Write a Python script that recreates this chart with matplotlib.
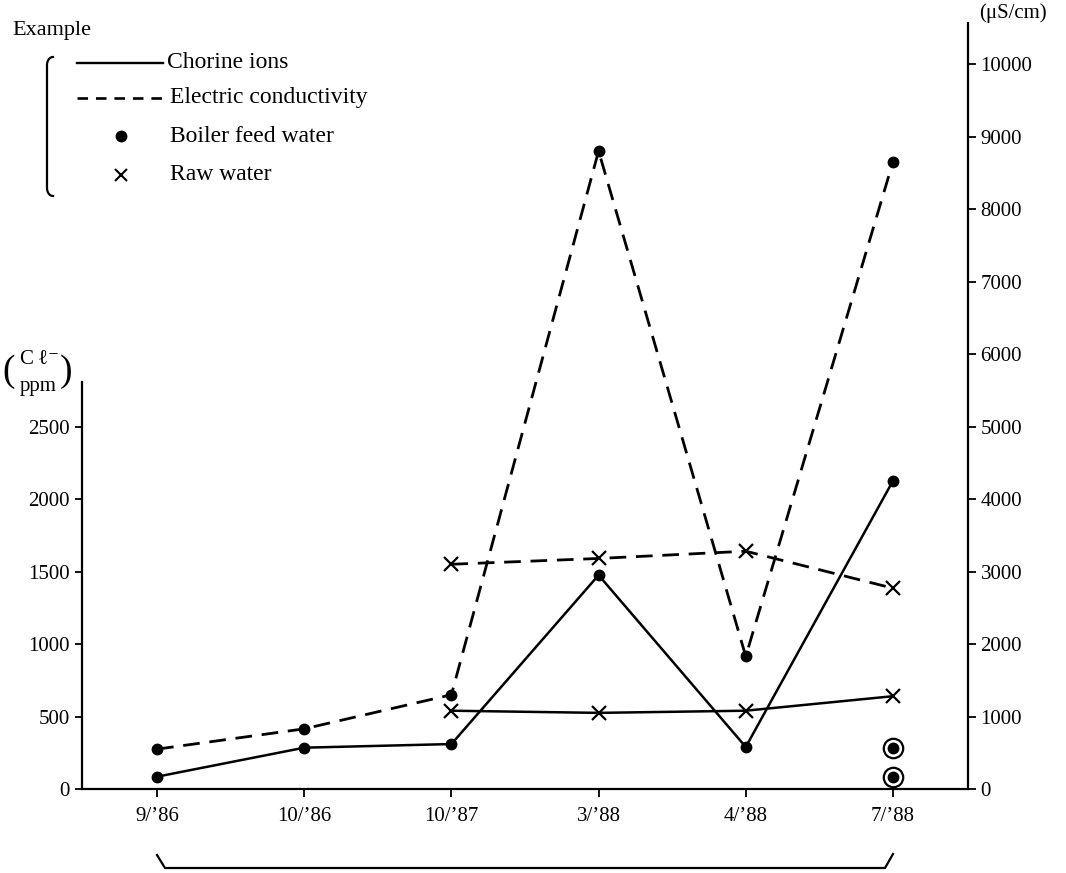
import matplotlib
matplotlib.use("Agg")
import matplotlib.pyplot as plt
import numpy as np

plt.rcParams['font.family'] = ['Liberation Serif', 'DejaVu Serif']

# data
dates = ["9/\u201986", "10/\u201986", "10/\u201987", "3/\u201988", "4/\u201988", "7/\u201988"]
cl_boiler = [85, 285, 310, 1475, 290, 2125]        # ppm, left axis
ec_boiler = [550, 830, 1300, 8800, 1830, 8650]     # uS/cm, right axis
raw_idx = [2, 3, 4, 5]
cl_raw = [540, 525, 540, 640]
ec_raw = [3100, 3180, 3280, 2770]
circled = [280, 85]   # circled dots at 7/'88

W, H = 1066, 873
fig = plt.figure(figsize=(W / 100, H / 100), dpi=100)
ax = fig.add_axes([82 / W, (H - 789) / H, (968 - 82) / W, (789 - 23) / H])
ax2 = ax.twinx()

x = np.arange(len(dates))
xr = x[raw_idx]

ax.plot(x, cl_boiler, color='k', lw=1.8, marker='o', ms=7.5, zorder=3)
ax.plot(xr, cl_raw, color='k', lw=1.8, marker='x', ms=10, mew=1.6, zorder=3)
ax2.plot(x, ec_boiler, color='k', lw=2.0, ls=(0, (6, 3.5)), marker='o', ms=7.5)
ax2.plot(xr, ec_raw, color='k', lw=2.0, ls=(0, (6, 3.5)), marker='x', ms=10, mew=1.6)

# circled dots
ax.plot([x[-1]] * len(circled), circled, ls='none', marker='o', ms=14,
        mfc='white', mec='k', mew=1.6, zorder=4)
ax.plot([x[-1]] * len(circled), circled, ls='none', marker='o', ms=7.5,
        color='k', zorder=5)

ax.set_xlim(-0.51, 5.51)
ax.set_ylim(0, 5283)
ax2.set_ylim(0, 10566)

for a in (ax, ax2):
    a.spines['top'].set_visible(False)
ax.spines['right'].set_visible(False)
ax2.spines['left'].set_visible(False)
ax2.spines['bottom'].set_visible(False)
ax.spines['left'].set_bounds(0, 2810)
for s in ('left', 'bottom'):
    ax.spines[s].set_linewidth(1.6)
ax2.spines['right'].set_linewidth(1.6)

tfs = 15
ax.set_yticks(range(0, 2501, 500))
ax2.set_yticks(range(0, 10001, 1000))
ax.set_xticks(x, dates)
ax.tick_params(axis='y', direction='out', length=5, width=1.3, pad=4, labelsize=tfs)
ax.tick_params(axis='x', direction='out', length=6, width=1.3, pad=7, labelsize=tfs)
ax2.tick_params(axis='y', direction='out', length=6, width=1.3, pad=3, labelsize=tfs)

# overlay in pixel coordinates for legend and annotations
ov = fig.add_axes([0, 0, 1, 1], facecolor='none')
ov.set_xlim(0, W)
ov.set_ylim(H, 0)
ov.axis('off')

fs = 17
ov.text(12, 30, "Example", fontsize=16, va='center')
t = np.linspace(0, 1, 20)
bx = np.concatenate([53 - 6 * np.sin(t * np.pi / 2), [47, 47], 47 + 6 * (1 - np.cos(t * np.pi / 2))])
by = np.concatenate([57 + 8 * (1 - np.cos(t * np.pi / 2)), [65, 188], 188 + 8 * np.sin(t * np.pi / 2)])
ov.plot(bx, by, color='k', lw=1.6)

ov.plot([77, 163], [63, 63], color='k', lw=1.7)
ov.text(167, 63, "Chorine ions", fontsize=fs, va='center')
ov.plot([77, 163], [98, 98], color='k', lw=1.9, ls=(0, (4, 3)))
ov.text(170, 98, "Electric conductivity", fontsize=fs, va='center')
ov.plot([121], [136], ls='none', marker='o', ms=7.5, color='k')
ov.text(170, 136, "Boiler feed water", fontsize=fs, va='center')
ov.plot([121], [175], ls='none', marker='x', ms=9, mew=1.5, color='k')
ov.text(170, 175, "Raw water", fontsize=fs, va='center')

# axis unit labels
ov.text(979, 13, "(\u03bcS/cm)", fontsize=15, va='center', ha='left')
ov.text(39, 360, "C\u2009\u2113\u207b", fontsize=15, va='center', ha='center')
ov.text(38, 386, "ppm", fontsize=15, va='center', ha='center')
ov.text(9, 372, "(", fontsize=27, va='center', ha='center')
ov.text(66, 372, ")", fontsize=27, va='center', ha='center')

# bracket under the date axis
ov.plot([157, 165, 885, 893], [855, 868, 868, 854], color='k', lw=1.6)

fig.savefig("out.png", dpi=100)
